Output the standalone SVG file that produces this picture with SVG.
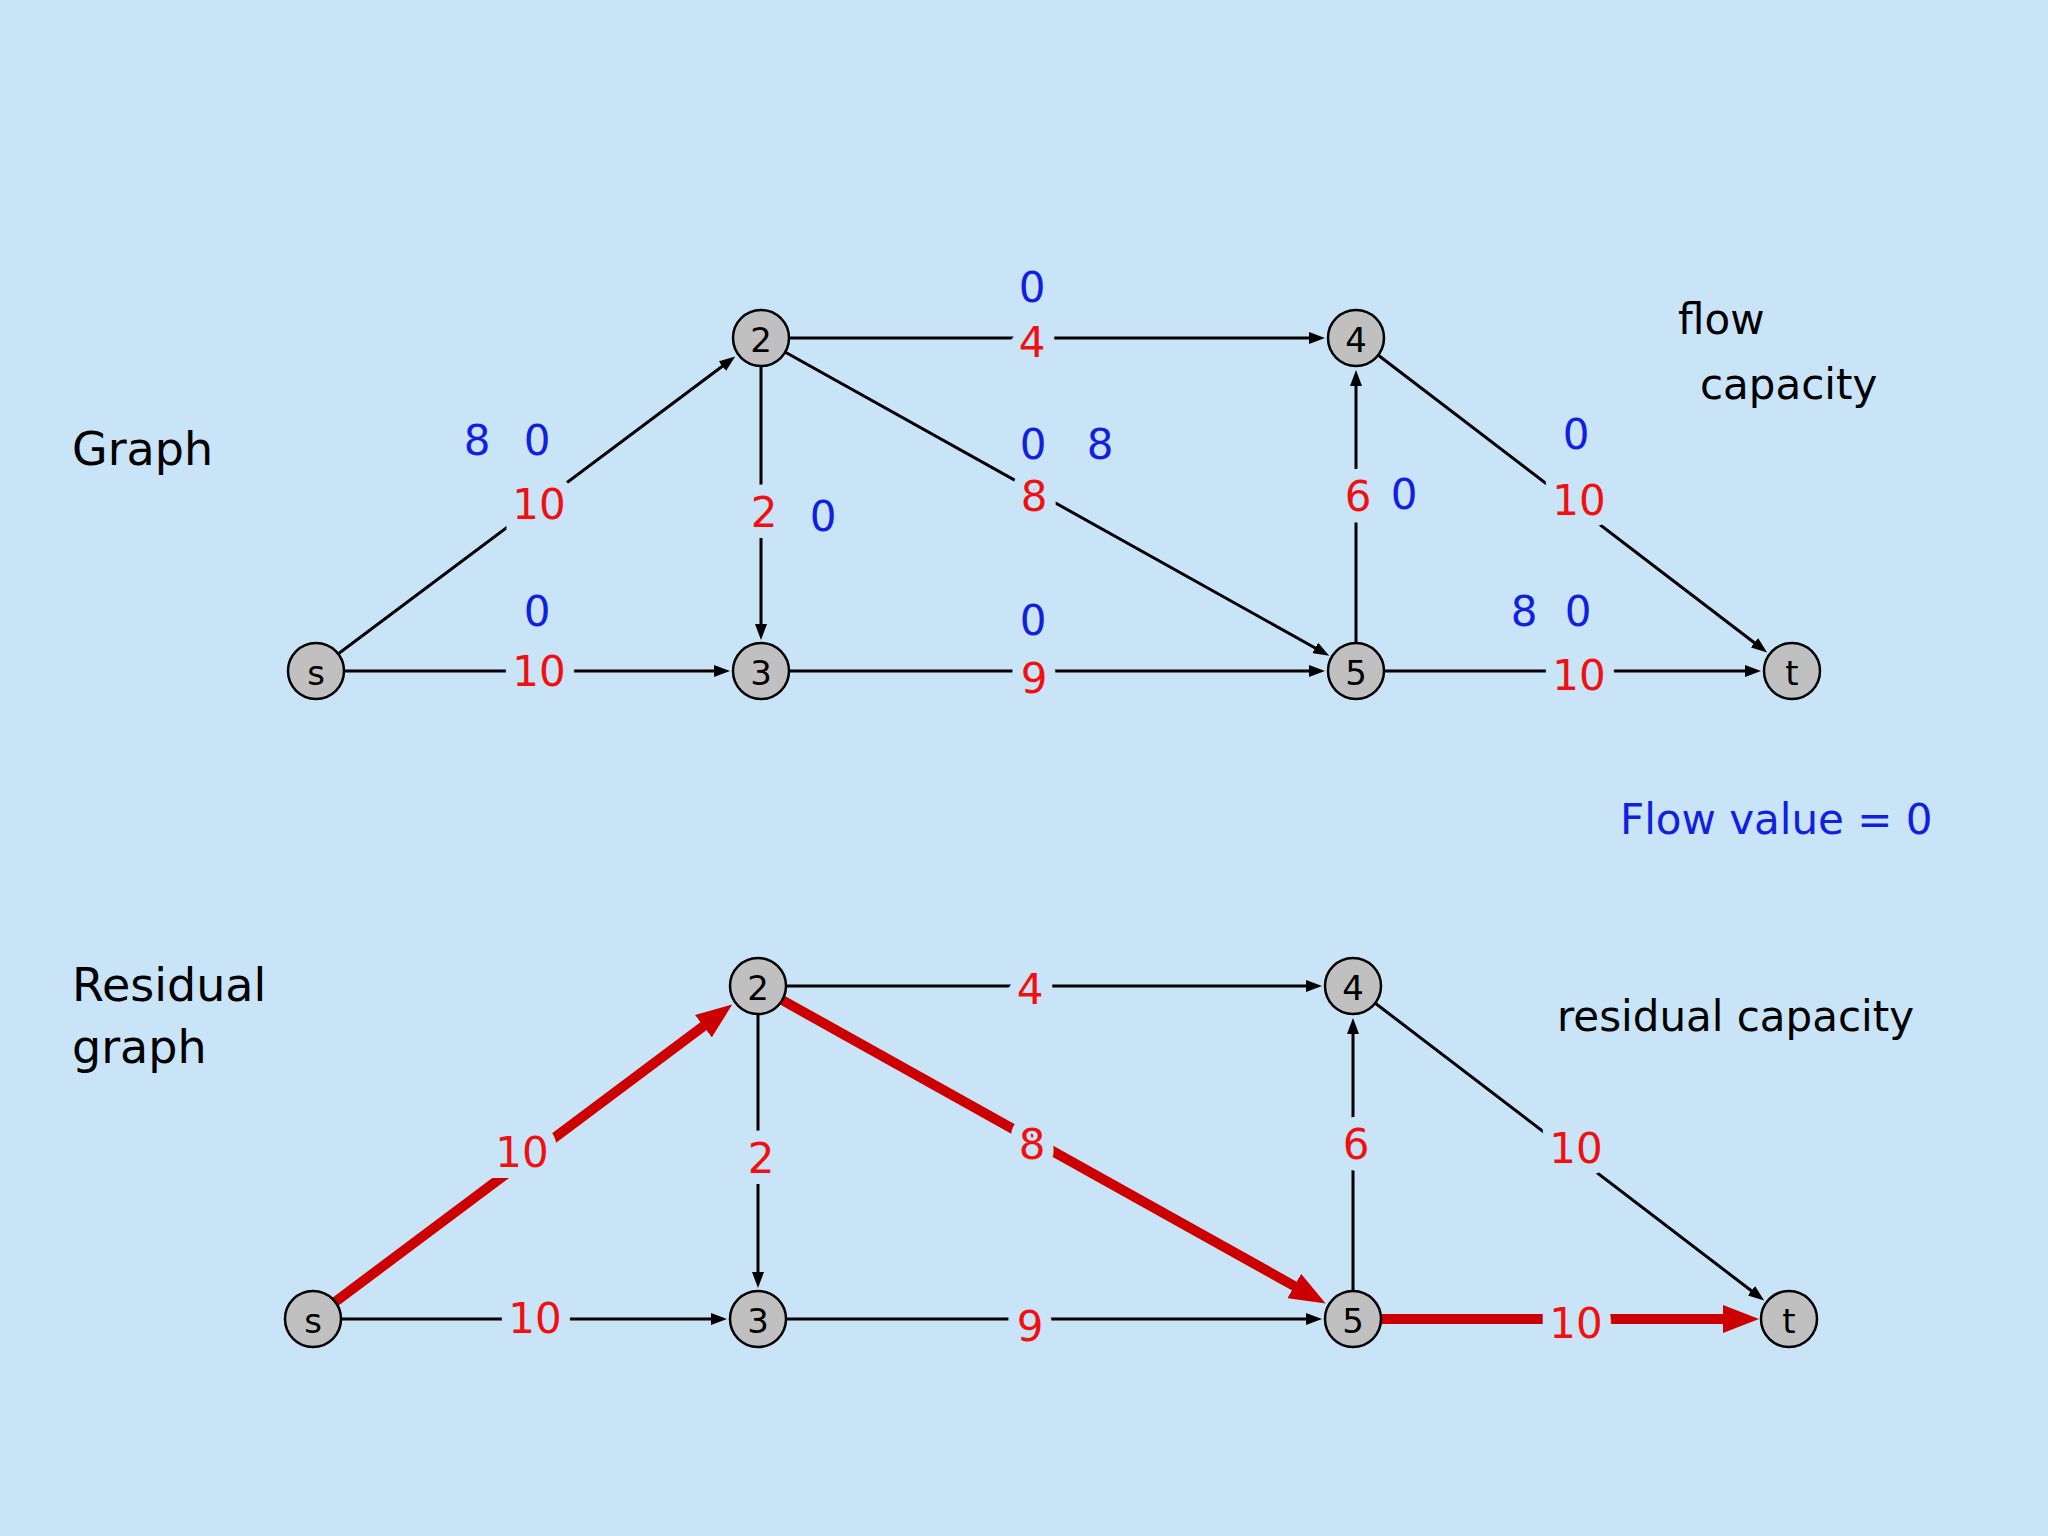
<svg xmlns="http://www.w3.org/2000/svg" width="2048" height="1536" viewBox="0 0 2048 1536">
<style>
text{font-family:"DejaVu Sans","Liberation Sans",sans-serif;font-size:42px;text-anchor:middle;dominant-baseline:central}
.r{fill:#f01010}.b{fill:#1020e0}.k{fill:#000}.l{text-anchor:start}
.lab{paint-order:stroke;stroke:#c9e3f7;stroke-width:22px}
.e{stroke:#000;stroke-width:3;fill:none;marker-end:url(#ak)}
.h{stroke:#cc0000;stroke-width:10;fill:none;marker-end:url(#ar)}
.n circle{fill:#c0c0c0;stroke:#000;stroke-width:2.5}
.n text{font-size:34px}
</style>
<defs>
<marker id="ak" markerUnits="userSpaceOnUse" markerWidth="16" markerHeight="12" refX="2" refY="6" orient="auto"><path d="M0,0 L16,6 L0,12 z" fill="#000"/></marker>
<marker id="ar" markerUnits="userSpaceOnUse" markerWidth="36" markerHeight="28" refX="2" refY="14" orient="auto"><path d="M0,0 L36,14 L0,28 z" fill="#cc0000"/></marker>
</defs>
<rect width="2048" height="1536" fill="#c9e3f7"/>
<text class="k l" x="72" y="449" style="font-size:46px">Graph</text>
<text class="k l" x="1678" y="319">flow</text>
<text class="k l" x="1700" y="384">capacity</text>
<text class="b l" x="1620" y="819">Flow value = 0</text>
<text class="k l" x="72" y="985" style="font-size:46px">Residual</text>
<text class="k l" x="72" y="1047" style="font-size:46px">graph</text>
<text class="k l" x="1557" y="1016">residual capacity</text>
<g id="connectors">
<path class="e" d="M338,654 L724,365"/>
<path class="e" d="M344,671 L716,671"/>
<path class="e" d="M761,366 L761,626"/>
<path class="e" d="M789,338 L1311,338"/>
<path class="e" d="M785,352 L1317,649"/>
<path class="e" d="M789,671 L1311,671"/>
<path class="e" d="M1356,643 L1356,384"/>
<path class="e" d="M1378,355 L1756,644"/>
<path class="e" d="M1384,671 L1747,671"/>
<g transform="translate(-3,648)">
<path class="h" d="M338,654 L708,377"/>
<path class="e" d="M344,671 L716,671"/>
<path class="e" d="M761,366 L761,626"/>
<path class="e" d="M789,338 L1311,338"/>
<path class="h" d="M785,352 L1299,639"/>
<path class="e" d="M789,671 L1311,671"/>
<path class="e" d="M1356,643 L1356,384"/>
<path class="e" d="M1378,355 L1756,644"/>
<path class="h" d="M1384,671 L1728,671"/>
</g>
</g>
<g id="labels" class="lab">
<text class="b" x="1032" y="287">0</text><text class="r" x="1032" y="342">4</text>
<text class="b" x="477" y="440">8</text><text class="b" x="537" y="440">0</text><text class="r" x="539" y="504">10</text>
<text class="r" x="764" y="512">2</text><text class="b" x="823" y="516">0</text>
<text class="b" x="1033" y="444">0</text><text class="b" x="1100" y="444">8</text><text class="r" x="1034" y="496">8</text>
<text class="r" x="1358" y="496">6</text><text class="b" x="1404" y="494">0</text>
<text class="b" x="1576" y="434">0</text><text class="r" x="1579" y="500">10</text>
<text class="b" x="537" y="611">0</text><text class="r" x="539" y="671">10</text>
<text class="b" x="1033" y="620">0</text><text class="r" x="1034" y="678">9</text>
<text class="b" x="1524" y="611">8</text><text class="b" x="1578" y="611">0</text><text class="r" x="1579" y="675">10</text>
<text class="r" x="1030" y="989">4</text>
<text class="r" x="522" y="1152">10</text>
<text class="r" x="761" y="1158">2</text>
<text class="r" x="1032" y="1144">8</text>
<text class="r" x="1356" y="1144">6</text>
<text class="r" x="1576" y="1148">10</text>
<text class="r" x="535" y="1318">10</text>
<text class="r" x="1030" y="1326">9</text>
<text class="r" x="1576" y="1323">10</text>
</g>
<g id="s" class="n"><circle cx="316" cy="671" r="28"/><text x="316" y="673">s</text></g>
<g id="n2" class="n"><circle cx="761" cy="338" r="28"/><text x="761" y="340">2</text></g>
<g id="n3" class="n"><circle cx="761" cy="671" r="28"/><text x="761" y="673">3</text></g>
<g id="n4" class="n"><circle cx="1356" cy="338" r="28"/><text x="1356" y="340">4</text></g>
<g id="n5" class="n"><circle cx="1356" cy="671" r="28"/><text x="1356" y="673">5</text></g>
<g id="t" class="n"><circle cx="1792" cy="671" r="28"/><text x="1792" y="673">t</text></g>
<g id="rs" class="n"><circle cx="313" cy="1319" r="28"/><text x="313" y="1321">s</text></g>
<g id="r2" class="n"><circle cx="758" cy="986" r="28"/><text x="758" y="988">2</text></g>
<g id="r3" class="n"><circle cx="758" cy="1319" r="28"/><text x="758" y="1321">3</text></g>
<g id="r4" class="n"><circle cx="1353" cy="986" r="28"/><text x="1353" y="988">4</text></g>
<g id="r5" class="n"><circle cx="1353" cy="1319" r="28"/><text x="1353" y="1321">5</text></g>
<g id="rt" class="n"><circle cx="1789" cy="1319" r="28"/><text x="1789" y="1321">t</text></g>
</svg>
